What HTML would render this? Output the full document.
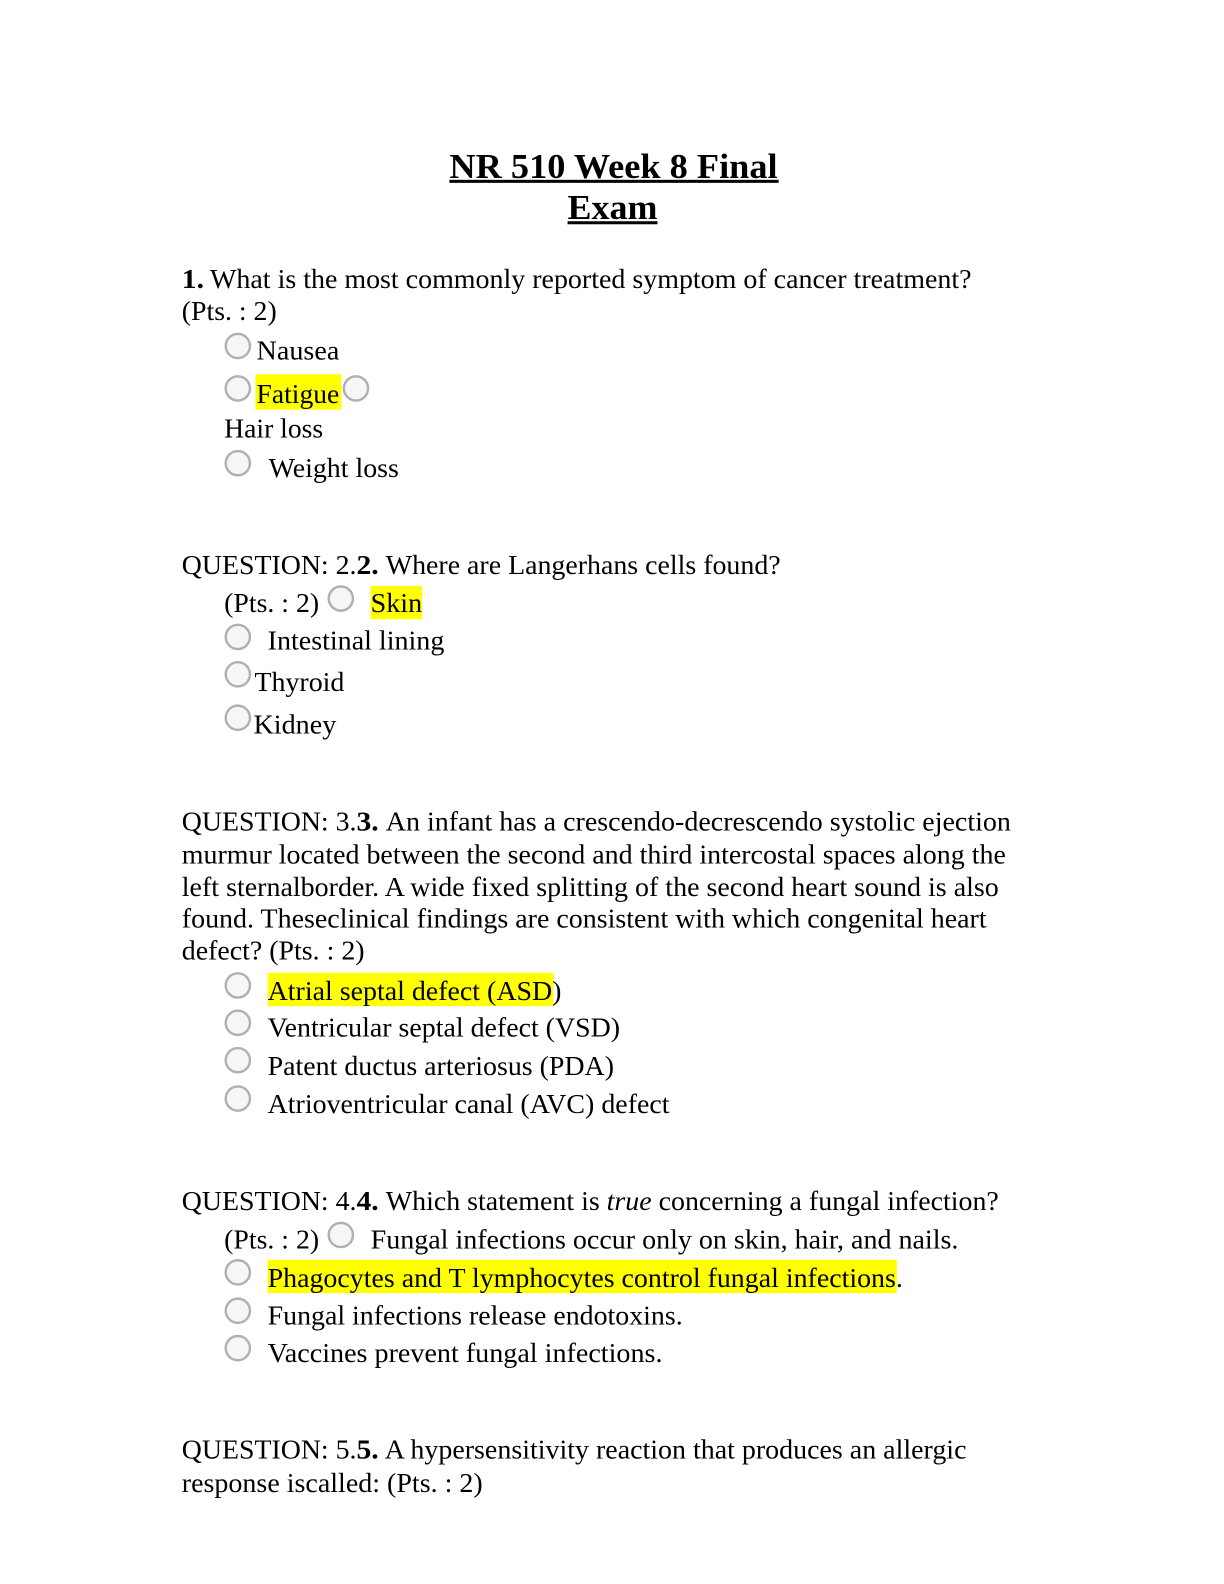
<!DOCTYPE html>
<html><head><meta charset="utf-8"><style>
html,body{margin:0;padding:0;background:#fff;width:1224px;height:1584px;overflow:hidden}
svg{display:block}
text{font-family:"Liberation Serif",serif;font-size:27px;fill:#000}
.t{font-size:35px;font-weight:bold}
b,.b{font-weight:bold}
</style></head><body>
<svg width="1224" height="1584" viewBox="0 0 1212 1568" preserveAspectRatio="none" xmlns="http://www.w3.org/2000/svg">
<defs><g id="r"><circle cx="13.5" cy="13.5" r="12" fill="#f6f6f6" stroke="#b0b0b0" stroke-width="2.4"/></g></defs>
<rect x="253" y="370.5" width="85" height="35" fill="#ff0"/>
<rect x="367" y="580" width="51" height="33" fill="#ff0"/>
<rect x="265" y="963" width="283" height="33" fill="#ff0"/>
<rect x="265" y="1247" width="623" height="33" fill="#ff0"/>
<text class="t" x="445" y="176" textLength="325" lengthAdjust="spacingAndGlyphs">NR 510 Week 8 Final</text>
<rect x="445" y="178" width="326" height="3"/>
<text class="t" x="562" y="217" textLength="89" lengthAdjust="spacingAndGlyphs">Exam</text>
<rect x="562" y="219" width="89" height="3"/>
<text x="180" y="285" class="b" textLength="22" lengthAdjust="spacingAndGlyphs">1.</text>
<text x="208" y="285" textLength="754" lengthAdjust="spacingAndGlyphs">What is the most commonly reported symptom of cancer treatment?</text>
<text x="180" y="317" textLength="94" lengthAdjust="spacingAndGlyphs">(Pts. : 2)</text>
<use href="#r" x="222" y="329"/><text x="254" y="356" textLength="82" lengthAdjust="spacingAndGlyphs">Nausea</text>
<use href="#r" x="222" y="371"/><text x="254" y="399" textLength="82" lengthAdjust="spacingAndGlyphs">Fatigue</text><use href="#r" x="339" y="371"/>
<text x="222" y="433" textLength="98" lengthAdjust="spacingAndGlyphs">Hair loss</text>
<use href="#r" x="222" y="445"/><text x="266" y="472" textLength="129" lengthAdjust="spacingAndGlyphs">Weight loss</text>
<text x="180" y="568" textLength="173" lengthAdjust="spacingAndGlyphs">QUESTION: 2.</text><text x="353" y="568" class="b" textLength="22" lengthAdjust="spacingAndGlyphs">2.</text>
<text x="382" y="568" textLength="391" lengthAdjust="spacingAndGlyphs">Where are Langerhans cells found?</text>
<text x="222" y="606" textLength="94" lengthAdjust="spacingAndGlyphs">(Pts. : 2)</text><use href="#r" x="324" y="579"/><text x="367" y="606" textLength="51" lengthAdjust="spacingAndGlyphs">Skin</text>
<use href="#r" x="222" y="617"/><text x="265" y="643" textLength="175" lengthAdjust="spacingAndGlyphs">Intestinal lining</text>
<use href="#r" x="222" y="654"/><text x="252" y="684" textLength="89" lengthAdjust="spacingAndGlyphs">Thyroid</text>
<use href="#r" x="222" y="697"/><text x="251" y="726" textLength="82" lengthAdjust="spacingAndGlyphs">Kidney</text>
<text x="180" y="822" textLength="173" lengthAdjust="spacingAndGlyphs">QUESTION: 3.</text><text x="353" y="822" class="b" textLength="22" lengthAdjust="spacingAndGlyphs">3.</text>
<text x="382" y="822" textLength="619" lengthAdjust="spacingAndGlyphs">An infant has a crescendo-decrescendo systolic ejection</text>
<text x="180" y="855" textLength="816" lengthAdjust="spacingAndGlyphs">murmur located between the second and third intercostal spaces along the</text>
<text x="180" y="887" textLength="809" lengthAdjust="spacingAndGlyphs">left sternalborder. A wide fixed splitting of the second heart sound is also</text>
<text x="180" y="918" textLength="797" lengthAdjust="spacingAndGlyphs">found. Theseclinical findings are consistent with which congenital heart</text>
<text x="180" y="950" textLength="181" lengthAdjust="spacingAndGlyphs">defect? (Pts. : 2)</text>
<use href="#r" x="222" y="962"/><text x="265" y="990" textLength="291" lengthAdjust="spacingAndGlyphs">Atrial septal defect (ASD)</text>
<use href="#r" x="222" y="999"/><text x="265" y="1026" textLength="349" lengthAdjust="spacingAndGlyphs">Ventricular septal defect (VSD)</text>
<use href="#r" x="222" y="1036"/><text x="265" y="1064" textLength="343" lengthAdjust="spacingAndGlyphs">Patent ductus arteriosus (PDA)</text>
<use href="#r" x="222" y="1074"/><text x="265" y="1102" textLength="398" lengthAdjust="spacingAndGlyphs">Atrioventricular canal (AVC) defect</text>
<text x="180" y="1198" textLength="173" lengthAdjust="spacingAndGlyphs">QUESTION: 4.</text><text x="353" y="1198" class="b" textLength="22" lengthAdjust="spacingAndGlyphs">4.</text>
<text x="382" y="1198" textLength="607" lengthAdjust="spacingAndGlyphs">Which statement is <tspan font-style="italic">true</tspan> concerning a fungal infection?</text>
<text x="222" y="1236" textLength="94" lengthAdjust="spacingAndGlyphs">(Pts. : 2)</text><use href="#r" x="324" y="1209"/><text x="367" y="1236" textLength="582" lengthAdjust="spacingAndGlyphs">Fungal infections occur only on skin, hair, and nails.</text>
<use href="#r" x="222" y="1246"/><text x="265" y="1274" textLength="629" lengthAdjust="spacingAndGlyphs">Phagocytes and T lymphocytes control fungal infections.</text>
<use href="#r" x="222" y="1284"/><text x="265" y="1311" textLength="411" lengthAdjust="spacingAndGlyphs">Fungal infections release endotoxins.</text>
<use href="#r" x="222" y="1321"/><text x="265" y="1348" textLength="391" lengthAdjust="spacingAndGlyphs">Vaccines prevent fungal infections.</text>
<text x="180" y="1444" textLength="173" lengthAdjust="spacingAndGlyphs">QUESTION: 5.</text><text x="353" y="1444" class="b" textLength="22" lengthAdjust="spacingAndGlyphs">5.</text>
<text x="381" y="1444" textLength="576" lengthAdjust="spacingAndGlyphs">A hypersensitivity reaction that produces an allergic</text>
<text x="180" y="1477" textLength="298" lengthAdjust="spacingAndGlyphs">response iscalled: (Pts. : 2)</text>
</svg>
</body></html>
